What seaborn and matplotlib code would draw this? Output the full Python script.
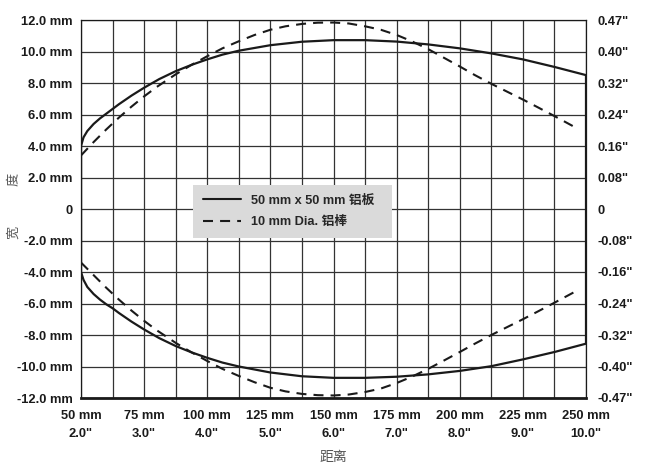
import matplotlib
matplotlib.use("Agg")
import matplotlib.pyplot as plt
import seaborn as sns
import pandas as pd
import numpy as np

# ---- data ----
plate_x = [50, 51, 52.5, 55, 57.5, 60, 62.5, 65, 70, 75, 81, 87.5, 93.75, 100, 106, 112.5,
           125, 137.5, 150, 162.5, 175, 187.5, 200, 212.5, 225, 237.5, 250]
plate_upper = [4.0, 4.55, 4.95, 5.4, 5.75, 6.05, 6.35, 6.65, 7.2, 7.7, 8.25, 8.75, 9.15, 9.5, 9.8, 10.05,
               10.4, 10.62, 10.72, 10.72, 10.63, 10.45, 10.2, 9.88, 9.5, 9.02, 8.5]
plate_lower = [-4.0, -4.5, -4.95, -5.4, -5.75, -6.05, -6.3, -6.6, -7.15, -7.65, -8.2, -8.7, -9.1, -9.45, -9.75, -10.0,
               -10.38, -10.62, -10.72, -10.72, -10.65, -10.5, -10.28, -9.98, -9.55, -9.08, -8.55]

rod_x = [50, 55, 60, 65, 70, 75, 80, 87.5, 93.75, 100, 106, 112.5, 118.75, 125, 131, 137.5, 143.75,
         150, 156, 162.5, 168.75, 175, 181, 187.5, 193.75, 200, 206, 212.5, 218.75, 225, 231, 237.5, 246]
rod_upper = [3.4, 4.25, 5.05, 5.8, 6.5, 7.15, 7.75, 8.55, 9.15, 9.7, 10.2, 10.65, 11.05, 11.38, 11.6, 11.75, 11.83,
             11.84, 11.78, 11.6, 11.38, 11.05, 10.65, 10.15, 9.6, 9.05, 8.5, 7.95, 7.45, 6.95, 6.45, 5.9, 5.16]
rod_lower = [-3.4, -4.2, -5.0, -5.75, -6.45, -7.1, -7.7, -8.5, -9.1, -9.65, -10.15, -10.6, -11.0, -11.35, -11.58, -11.74, -11.82,
             -11.84, -11.78, -11.62, -11.4, -11.05, -10.65, -10.15, -9.62, -9.08, -8.55, -8.0, -7.5, -7.0, -6.5, -5.95, -5.22]

x_ticks = [50, 75, 100, 125, 150, 175, 200, 225, 250]
x_tick_labels = ['50 mm\n2.0"', '75 mm\n3.0"', '100 mm\n4.0"', '125 mm\n5.0"', '150 mm\n6.0"',
                 '175 mm\n7.0"', '200 mm\n8.0"', '225 mm\n9.0"', '250 mm\n10.0"']
y_ticks = [12, 10, 8, 6, 4, 2, 0, -2, -4, -6, -8, -10, -12]
y_tick_labels_left = ['12.0 mm', '10.0 mm', '8.0 mm', '6.0 mm', '4.0 mm', '2.0 mm', '0',
                      '-2.0 mm', '-4.0 mm', '-6.0 mm', '-8.0 mm', '-10.0 mm', '-12.0 mm']
y_tick_labels_right = ['0.47"', '0.40"', '0.32"', '0.24"', '0.16"', '0.08"', '0',
                       '-0.08"', '-0.16"', '-0.24"', '-0.32"', '-0.40"', '-0.47"']
series_labels = ['50 mm x 50 mm 铝板', '10 mm Dia. 铝棒']
x_label = '距离'
y_label = '宽\u3000\u3000\u3000度'

# ---- build tables ----
plate_df = pd.DataFrame({
    'x': plate_x + plate_x[::-1] + [plate_x[0]],
    'y': plate_upper + plate_lower[::-1] + [plate_upper[0]],
})
rod_df = pd.DataFrame({
    'x': rod_x + rod_x,
    'y': rod_upper + rod_lower,
    'part': ['upper'] * len(rod_x) + ['lower'] * len(rod_x),
})

sns.set_style("white")
LATIN = ['Liberation Sans', 'Noto Sans CJK SC', 'DejaVu Sans']
CJK = ['Noto Sans CJK SC', 'DejaVu Sans']
plt.rcParams['font.family'] = LATIN

fig = plt.figure(figsize=(6.47, 4.69), dpi=100)
ax = fig.add_axes([81 / 647, 1 - 398 / 469, 505 / 647, 378 / 469])

ax.set_xlim(50, 250)
ax.set_ylim(-12, 12)

# grid
ax.set_xticks(x_ticks)
ax.set_xticks(np.arange(62.5, 250, 25), minor=True)
ax.set_yticks(y_ticks)
ax.grid(which='both', color='#333333', linewidth=0.9)
ax.set_axisbelow(True)
ax.tick_params(which='both', length=0)

black = '#1a1a1a'
sns.lineplot(data=plate_df, x='x', y='y', sort=False, estimator=None, ax=ax,
             color=black, linewidth=1.6, label=series_labels[0])
for i, (part, sub) in enumerate(rod_df.groupby('part', sort=False)):
    sns.lineplot(data=sub, x='x', y='y', sort=False, estimator=None, ax=ax,
                 color=black, linewidth=1.5,
                 label=series_labels[1] if i == 0 else None)
for ln in ax.lines[1:]:
    ln.set_dashes((4.8, 3.4))

TICK_FS = 9.3
ax.set_xticklabels(x_tick_labels, fontsize=TICK_FS, fontweight='bold', color='#1a1a1a',
                   linespacing=1.7)
ax.set_yticklabels(y_tick_labels_left, fontsize=TICK_FS, fontweight='bold', color='#1a1a1a')
ax.tick_params(axis='x', pad=8.5)
ax.tick_params(axis='y', pad=6)

ax.set_xlabel(x_label, family=CJK, fontsize=10, color='#555555')
ax.xaxis.set_label_coords(0.5, -0.156)
ax.xaxis.label.set_va('center')
ax.set_ylabel(y_label, family=CJK, fontsize=9.5, color='#555555')
ax.yaxis.set_label_coords(-0.132, 0.508)
ax.yaxis.label.set_va('center')

for side in ['left', 'right', 'top']:
    ax.spines[side].set_color(black)
    ax.spines[side].set_linewidth(0.9)
ax.spines['bottom'].set_color(black)
ax.spines['bottom'].set_linewidth(2.0)

ax2 = ax.twinx()
ax2.set_ylim(-12, 12)
ax2.set_yticks(y_ticks)
ax2.set_yticklabels(y_tick_labels_right, fontsize=TICK_FS, fontweight='bold', color='#1a1a1a')
ax2.tick_params(length=0, pad=8)
for s in ax2.spines.values():
    s.set_visible(False)

leg = ax.legend(loc='upper left', bbox_to_anchor=(0.2218, 0.4427, 0.395, 0.12), mode='expand',
                frameon=True, fancybox=False, facecolor='#dadada', edgecolor='none', framealpha=1,
                handlelength=3.0, handletextpad=0.75, borderpad=0.75, borderaxespad=0,
                labelspacing=0.72,
                prop={'family': LATIN, 'weight': 'bold', 'size': 9.2})
for h in leg.get_lines():
    h.set_linewidth(1.5)

fig.savefig('out.png', dpi=100)
